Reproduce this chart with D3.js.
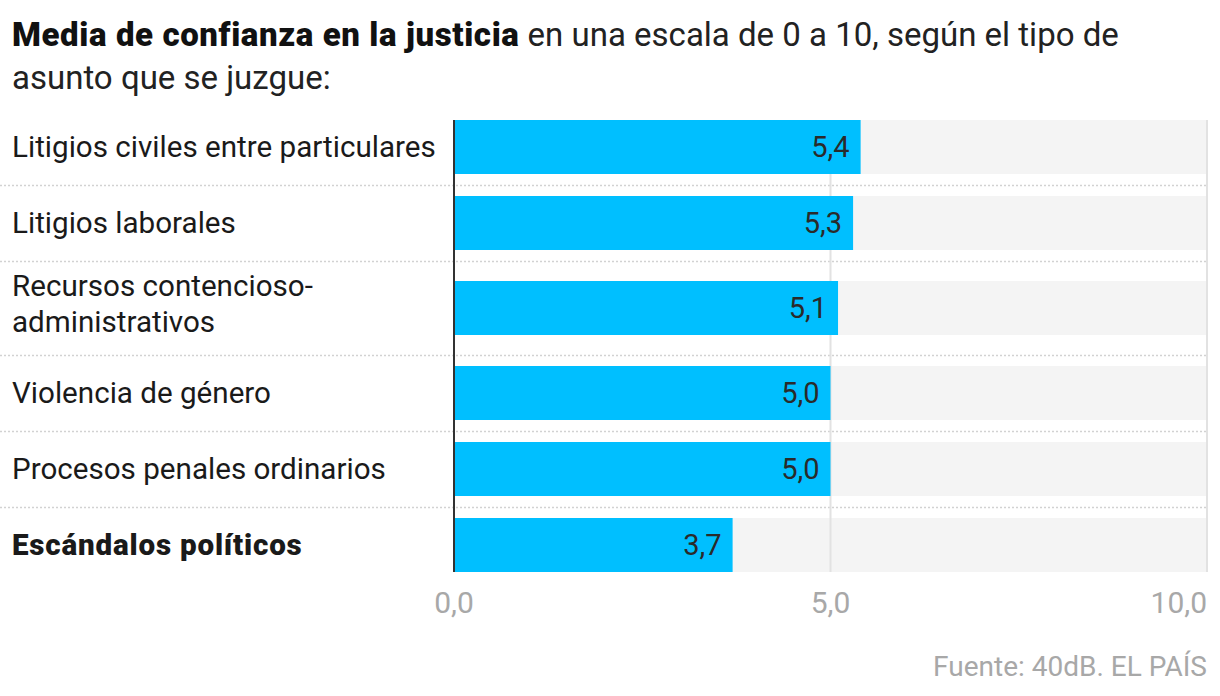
<!DOCTYPE html>
<html>
<head>
<meta charset="utf-8">
<script src="https://cdn.jsdelivr.net/npm/d3@7"></script>
<style>
  html, body { margin: 0; padding: 0; background: #fff; }
  svg { display: block; }
</style>
</head>
<body>
<svg id="chart" width="1220" height="696"></svg>
<script>
// ---- data ----
const categories = [
  "Litigios civiles entre particulares",
  "Litigios laborales",
  "Recursos contencioso-administrativos",
  "Violencia de género",
  "Procesos penales ordinarios",
  "Escándalos políticos"
];
const labelLines = [
  ["Litigios civiles entre particulares"],
  ["Litigios laborales"],
  ["Recursos contencioso-", "administrativos"],
  ["Violencia de género"],
  ["Procesos penales ordinarios"],
  ["Escándalos políticos"]
];
const highlighted = ["Escándalos políticos"];
const values = [5.4, 5.3, 5.1, 5.0, 5.0, 3.7];
const tickValues = [0, 5, 10];
const tickLabels = ["0,0", "5,0", "10,0"];
const titleBold = "Media de confianza en la justicia";
const titleRest1 = " en una escala de 0 a 10, según el tipo de";
const titleLine2 = "asunto que se juzgue:";
const source = "Fuente: 40dB. EL PAÍS";

// ---- layout ----
const x0 = 454, x1 = 1207;
const topY = 109;            // top of first row block
const baseRow = 76, extraLine = 18, barH = 54;
const fontFam = "Roboto, 'Noto Sans', sans-serif";

const svg = d3.select("#chart");

const x = d3.scaleLinear().domain([0, 10]).range([x0, x1]);

// row block offsets computed from number of label lines
const rowHeights = labelLines.map(l => baseRow + extraLine * (l.length - 1));
const rowStarts = [];
rowHeights.reduce((acc, h) => { rowStarts.push(acc); return acc + h; }, topY);
const yStart = d3.scaleOrdinal().domain(categories).range(rowStarts);
const yHeight = d3.scaleOrdinal().domain(categories).range(rowHeights);
const barTop = c => yStart(c) + (yHeight(c) - barH) / 2;
const barMid = c => yStart(c) + yHeight(c) / 2;

// title
const title = svg.append("text")
  .attr("x", 12).attr("y", 46)
  .attr("font-family", fontFam).attr("font-size", 33).attr("fill", "#111");
title.append("tspan").attr("font-weight", 900).attr("letter-spacing", 0.6).text(titleBold);
title.append("tspan").attr("font-weight", 400).attr("fill", "#222").text(titleRest1);
svg.append("text")
  .attr("x", 12).attr("y", 89)
  .attr("font-family", fontFam).attr("font-size", 33).attr("fill", "#222")
  .text(titleLine2);

// separators (dotted) between rows
svg.append("g").selectAll("line")
  .data(categories.slice(1))
  .join("line")
  .attr("x1", 0).attr("x2", x(10))
  .attr("y1", c => yStart(c) + 0.5).attr("y2", c => yStart(c) + 0.5)
  .attr("stroke", "#d2d2d2").attr("stroke-width", 1.5)
  .attr("stroke-dasharray", "2,2");

// background bars
svg.append("g").selectAll("rect")
  .data(categories)
  .join("rect")
  .attr("x", x(0)).attr("width", x(10) - x(0))
  .attr("y", c => barTop(c)).attr("height", barH)
  .attr("fill", "#f4f4f4");

// vertical gridlines
svg.append("g").selectAll("line")
  .data(tickValues.slice(1))
  .join("line")
  .attr("x1", d => x(d)).attr("x2", d => x(d))
  .attr("y1", barTop(categories[0])).attr("y2", barTop(categories[5]) + barH)
  .attr("stroke", "#e2e2e2").attr("stroke-width", 2);

// value bars
svg.append("g").selectAll("rect")
  .data(categories)
  .join("rect")
  .attr("x", x(0))
  .attr("width", (c, i) => x(values[i]) - x(0))
  .attr("y", c => barTop(c)).attr("height", barH)
  .attr("fill", "#00bfff");

// zero axis line
svg.append("line")
  .attr("x1", x(0)).attr("x2", x(0))
  .attr("y1", barTop(categories[0])).attr("y2", barTop(categories[5]) + barH)
  .attr("stroke", "#333").attr("stroke-width", 2);

// value labels
svg.append("g").selectAll("text")
  .data(categories)
  .join("text")
  .attr("x", (c, i) => x(values[i]) - 11)
  .attr("y", c => barMid(c) + 10)
  .attr("text-anchor", "end")
  .attr("font-family", fontFam).attr("font-size", 29).attr("fill", "#2a2a2a")
  .text((c, i) => d3.format(".1f")(values[i]).replace(".", ","));

// category labels
const lab = svg.append("g").selectAll("text")
  .data(categories)
  .join("text")
  .attr("font-family", fontFam).attr("font-size", 29.6)
  .attr("fill", "#1a1a1a")
  .attr("font-weight", c => highlighted.includes(c) ? 900 : 400)
  .attr("letter-spacing", c => highlighted.includes(c) ? 0.8 : 0);
lab.each(function(c, i) {
  const lines = labelLines[i];
  const n = lines.length;
  d3.select(this).selectAll("tspan")
    .data(lines)
    .join("tspan")
    .attr("x", 12)
    .attr("y", (l, j) => barMid(c) + 10 + (j - (n - 1) / 2) * 36 - (n - 1) * 4)
    .text(l => l);
});

// x axis tick labels
svg.append("g").selectAll("text")
  .data(tickValues)
  .join("text")
  .attr("x", d => x(d))
  .attr("y", 613)
  .attr("text-anchor", (d, i) => i === tickValues.length - 1 ? "end" : "middle")
  .attr("font-family", fontFam)
  .attr("font-size", 30).attr("fill", "#a8a8a8")
  .text((d, i) => tickLabels[i]);

// source
svg.append("text")
  .attr("x", x(10)).attr("y", 676)
  .attr("text-anchor", "end")
  .attr("font-family", fontFam)
  .attr("font-size", 28).attr("fill", "#a8a8a8")
  .text(source);
</script>
</body>
</html>
